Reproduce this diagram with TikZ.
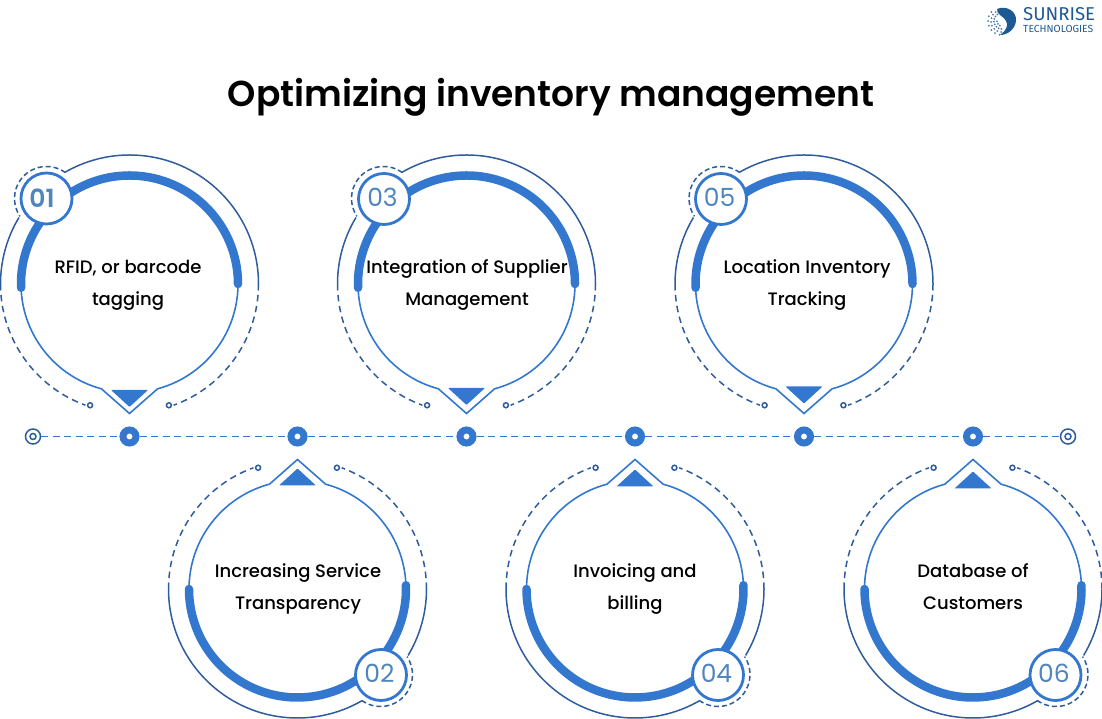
\documentclass[tikz,border=0pt]{standalone}
\usepackage{fontspec}
\setmainfont{Poppins}
\newfontfamily\titlefont{Poppins SemiBold}
\newfontfamily\labelfont{Poppins Medium}
\newfontfamily\logofont{Fira Sans}
\definecolor{ringblue}{HTML}{3378CE}
\definecolor{linedark}{HTML}{2F5C9C}
\definecolor{numblue}{HTML}{4F86BE}
\definecolor{logoblue}{HTML}{1D5A94}
\newcommand{\badgenum}[1]{\raisebox{2.5pt}{\kern-3pt #1}}

\begin{document}
\begin{tikzpicture}[
	x=1pt, y=1pt,
	thin line/.style={ linedark, line width=1.5pt },
	dash line/.style={ linedark, line width=1.5pt, dash pattern=on 6.5pt off 4.5pt },
	inner line/.style={ ringblue, line width=1.6pt },
	thick arc/.style={ ringblue, line width=8.5pt, line cap=round },
	badge/.style={ circle, draw=ringblue, line width=2.8pt, fill=white, text=numblue, inner sep=0pt, minimum size=51pt, font=\fontsize{25}{25}\selectfont },
	caption/.style={ align=center, inner sep=0pt, font=\labelfont\fontsize{18}{32}\selectfont },
	timedot/.style={ circle, draw=ringblue, fill=white, line width=7pt, inner sep=0pt, minimum size=13pt },
	endcap/.style={ circle, draw=linedark, fill=white, line width=1.5pt, inner sep=0pt, minimum size=15pt },
	endcore/.style={ circle, draw=linedark, line width=1.5pt, inner sep=0pt, minimum size=6pt },
	timeline/.style={ ringblue, line width=1.9pt, dash pattern=on 7pt off 4.5pt }
]

\useasboundingbox (0,0) rectangle (1102,719);

% rings
\foreach \cx/\cy/\rot/\tri in {129.5/435/0/0, 466.5/435/0/2, 804/435/0/3.5, 297.5/130/180/2.5, 635/130/180/3.5, 973/130/180/5.5} {
\begin{scope}[shift={(\cx,\cy)}, rotate=\rot]
\draw[thin line] (0:129) arc[start angle=0, end angle=120, radius=129];
\draw[thin line] (149:129) arc[start angle=149, end angle=180, radius=129];
\draw[dash line] (180:129) arc[start angle=180, end angle=250, radius=129];
\draw[dash line] (360:129) arc[start angle=360, end angle=290, radius=129];
\draw[thin line] (252:127.5) circle (2.5);
\draw[thin line] (288:127.5) circle (2.5);
\draw[inner line] (0:108.5) arc[start angle=0, end angle=-75, radius=108.5] -- (0,-129.5) -- (255:108.5) arc[start angle=255, end angle=180, radius=108.5];
\draw[thick arc] (182:108.5) arc[start angle=182, end angle=0, radius=108.5];
\fill[ringblue, rounded corners=0.8pt] (-18.5,-106+\tri) -- (18.5,-106+\tri) -- (0,-123+\tri) -- cycle;
\draw[dash line, dash pattern=on 5pt off 3pt] (-83,85.5) ++(54:32) arc[start angle=54, end angle=214, radius=32];
\end{scope}
}

% timeline
\node at (33,282.5) (startcap) [endcap] {};
\node at (129.5,282.5) (dotone) [timedot] {};
\node at (297.5,282.5) (dottwo) [timedot] {};
\node at (466.5,282.5) (dotthree) [timedot] {};
\node at (635,282.5) (dotfour) [timedot] {};
\node at (804,282.5) (dotfive) [timedot] {};
\node at (973,282.5) (dotsix) [timedot] {};
\node at (1068,282.5) (stopcap) [endcap] {};
\node at (startcap) (startcore) [endcore] {};
\node at (stopcap) (stopcore) [endcore] {};
\draw[timeline] (startcap) to (dotone);
\draw[timeline] (dotone) to (dottwo);
\draw[timeline] (dottwo) to (dotthree);
\draw[timeline] (dotthree) to (dotfour);
\draw[timeline] (dotfour) to (dotfive);
\draw[timeline] (dotfive) to (dotsix);
\draw[timeline] (dotsix) to (stopcap);

% badges
\node at (46.5,520.5) (badgeone) [badge] {\kern-9pt\titlefont 01};
\node at (384,520) (badgethree) [badge] {\badgenum{03}};
\node at (721,520) (badgefive) [badge] {\badgenum{05}};
\node at (381,44) (badgetwo) [badge] {\badgenum{02}};
\node at (718,44) (badgefour) [badge] {\badgenum{04}};
\node at (1055.5,44) (badgesix) [badge] {\badgenum{06}};

% captions
\node at (128,434) (textone) [caption] {RFID, or barcode\\tagging};
\node at (467,434) (textthree) [caption] {Integration of Supplier\\Management};
\node at (807,434) (textfive) [caption] {Location Inventory\\Tracking};
\node at (298,130) (texttwo) [caption] {Increasing Service\\Transparency};
\node at (635,130) (textfour) [caption] {Invoicing and\\billing};
\node at (973,132) (textsix) [caption] {Database of\\Customers};

% title
\node at (551,622) (title) [inner sep=0pt, font=\titlefont\fontsize{36}{36}\selectfont] {Optimizing inventory management};

% logo
\fill[logoblue] (997,710) .. controls (1006,714) and (1017,708) .. (1016,698) .. controls (1015,690) and (1008,684) .. (1000,684) .. controls (1006,688) and (1009,694) .. (1006,698) .. controls (1004,703) and (996,704) .. (997,710) -- cycle;
\foreach \ang/\rad in {125/8, 145/8, 165/8, 185/8, 205/8, 225/8, 245/8, 265/8, 125/11, 145/11, 165/11, 185/11, 205/11, 225/11, 245/11, 265/11, 140/14, 160/14, 180/14, 200/14, 220/14, 240/14, 260/14, 185/5, 215/5, 245/5} {
\fill[logoblue!80] (1002,698) ++(\ang:\rad) circle (1);
}
\node at (1023,705) (logoname) [anchor=west, inner sep=0pt, text=logoblue, font=\logofont\fontsize{18.6}{18.6}\selectfont] {SUNRISE};
\node at (1023,690) (logotag) [anchor=west, inner sep=0pt, text=logoblue, font=\logofont\fontsize{10.3}{10.3}\selectfont] {TECHNOLOGIES};

\end{tikzpicture}
\end{document}
